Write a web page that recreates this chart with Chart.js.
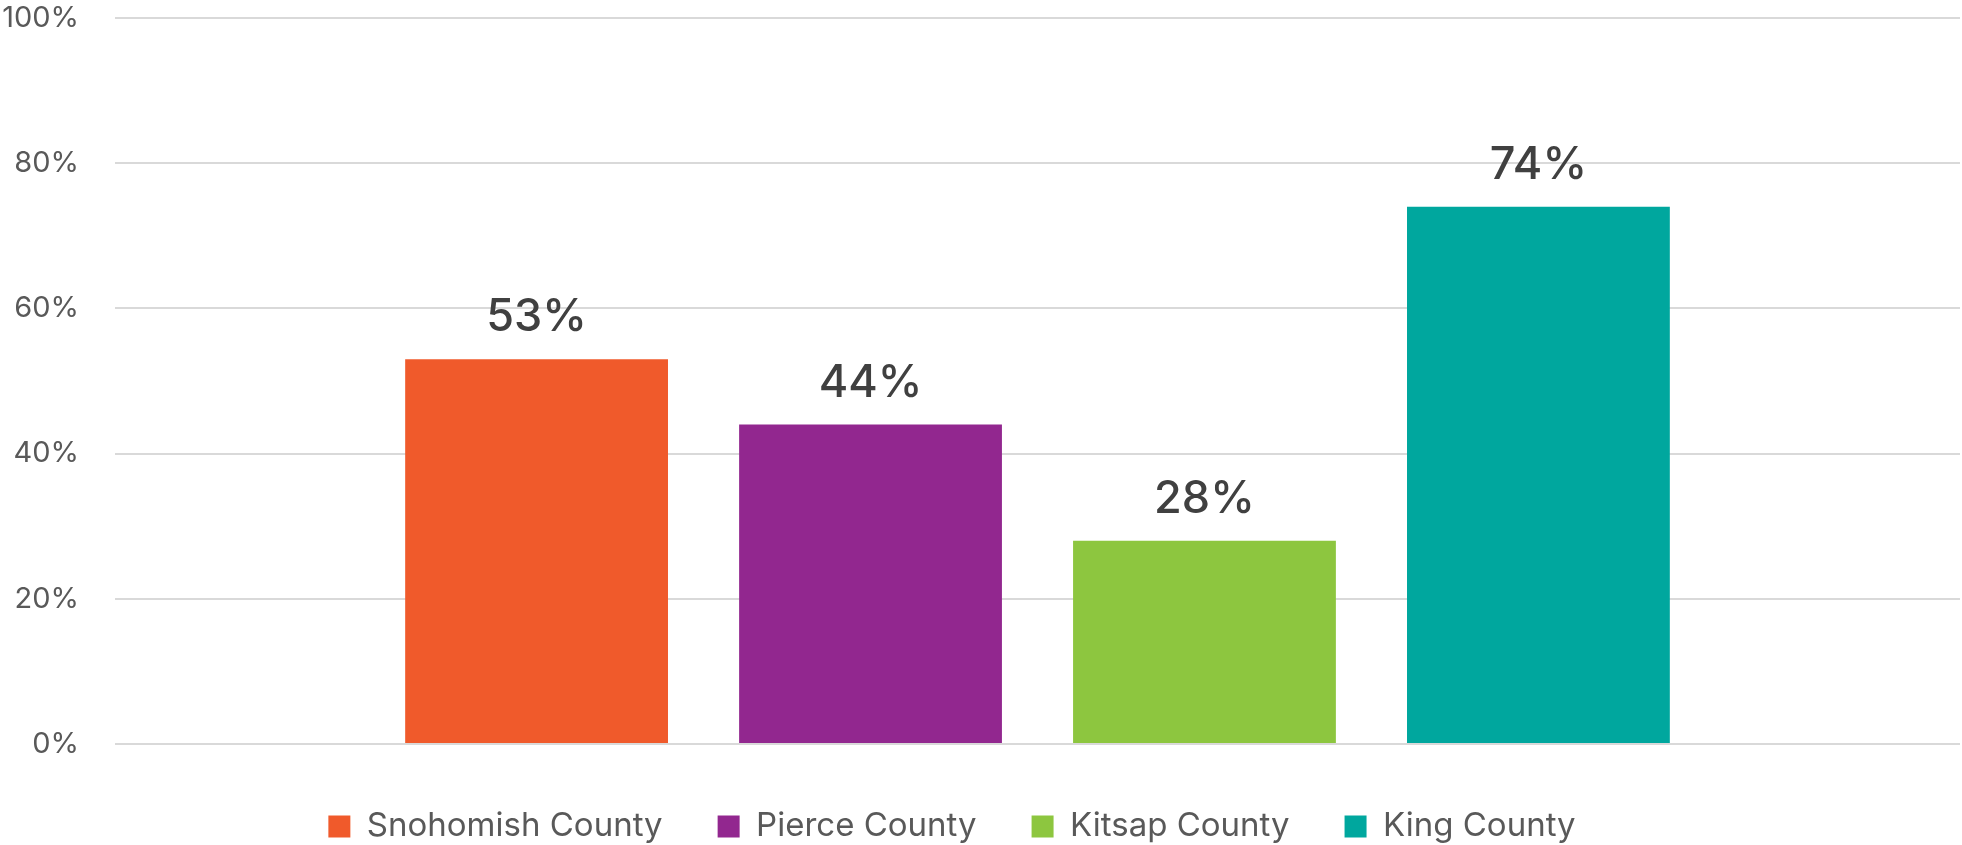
<!DOCTYPE html>
<html>
<head>
<meta charset="utf-8">
<script src="https://cdn.jsdelivr.net/npm/chart.js@4/dist/chart.umd.min.js"></script>
<style>
    html, body { margin: 0; padding: 0; background: #fff; }
    #wrap { width: 1962px; height: 845px; }
</style>
</head>
<body>
<div id="wrap"><canvas id="chart"></canvas></div>
<script>
var counties = ['Snohomish County', 'Pierce County', 'Kitsap County', 'King County'];
var shares = [53, 44, 28, 74];
var colors = ['#F05A2B', '#92278F', '#8DC63F', '#00A79E'];
var yTicks = [0, 20, 40, 60, 80, 100];

var FONT = 'Inter, "Open Sans", sans-serif';

// value labels over each bar
var barLabels = {
    id: 'barLabels',
    afterDatasetsDraw: function(chart) {
        var ctx = chart.ctx;
        ctx.save();
        ctx.font = '500 45px ' + FONT;
        ctx.fillStyle = '#404040';
        ctx.textAlign = 'center';
        ctx.textBaseline = 'alphabetic';
        chart.data.datasets.forEach(function(ds, i) {
            var bar = chart.getDatasetMeta(i).data[0];
            ctx.fillText(ds.data[0] + '%', bar.x, bar.y - 28);
        });
        ctx.restore();
    }
};

// legend sits a little left of centre in the original
var legendShift = {
    id: 'legendShift',
    afterLayout: function(chart) {
        chart.legend.left -= 28;
        chart.legend.right -= 28;
    }
};

var datasets = counties.map(function(name, i) {
    return {
        label: name,
        data: [shares[i]],
        backgroundColor: colors[i],
        categoryPercentage: 0.724,
        barPercentage: 0.787
    };
});

new Chart(document.getElementById('chart'), {
    type: 'bar',
    data: { labels: [''], datasets: datasets },
    options: {
        responsive: true,
        maintainAspectRatio: false,
        animation: false,
        layout: { padding: { top: 0, left: 0, right: 2, bottom: -8 } },
        scales: {
            x: { display: false },
            y: {
                min: 0,
                max: 100,
                afterBuildTicks: function(axis) {
                    axis.ticks = yTicks.map(function(v) { return { value: v }; });
                },
                afterFit: function(axis) {
                    axis.width = 115;
                    axis.paddingTop = 18;
                    axis.paddingBottom = 18;
                },
                ticks: {
                    padding: 36,
                    color: '#595959',
                    font: { family: FONT, size: 29 },
                    callback: function(v) { return v + '%'; }
                },
                grid: { color: '#d9d9d9', lineWidth: 2, drawTicks: false },
                border: { display: false }
            }
        },
        plugins: {
            legend: {
                position: 'bottom',
                title: { display: true, text: '', font: { size: 5 }, padding: { top: 0, bottom: 5 } },
                labels: {
                    boxWidth: 22,
                    boxHeight: 22,
                    padding: 55,
                    color: '#595959',
                    font: { family: FONT, size: 33 }
                }
            },
            tooltip: { enabled: false }
        }
    },
    plugins: [barLabels, legendShift]
});
</script>
</body>
</html>
